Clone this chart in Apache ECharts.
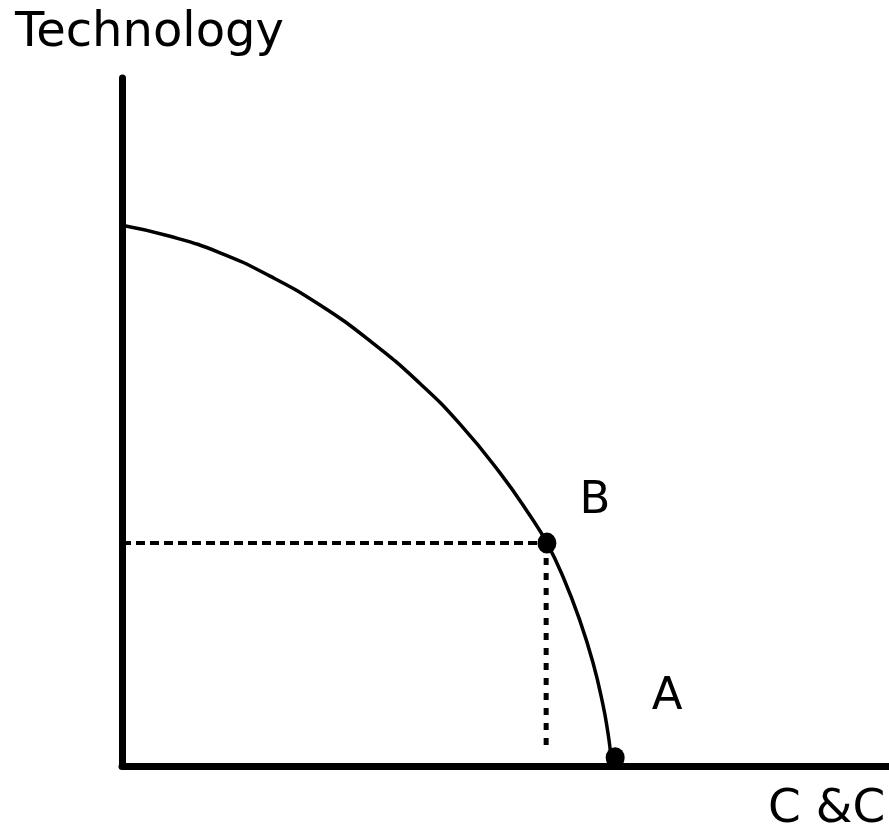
<!DOCTYPE html>
<html>
<head>
<meta charset="utf-8">
<script src="https://cdn.jsdelivr.net/npm/echarts@6/dist/echarts.min.js"></script>
<style>
  html, body { margin: 0; padding: 0; background: #fff; }
  #main { width: 889px; height: 836px; }
</style>
</head>
<body>
<div id="main"></div>
<script>
// frontier curve (x: C &C, y: Technology)
var curveX = [0, 6.26, 12.78, 19.30, 25.81, 32.33, 38.85, 44.07, 49.28, 53.19, 55.41, 57.50, 59.71, 61.41, 62.71, 63.36, 63.69, 63.89];
var curveY = [78.6, 77.0, 74.6, 71.2, 67.0, 61.8, 55.6, 49.7, 42.6, 36.4, 32.4, 27.5, 21.1, 15.0, 8.9, 4.8, 2.0, 0];

var pointNames = ['B', 'A'];
var pointX = [55.4, 64.3];
var pointY = [32.4, 1.2];

var guideH = [[0, 32.4], [55.4, 32.4]];
var guideV = [[55.3, 32.4], [55.3, 1.9]];

var chart = echarts.init(document.getElementById('main'));

var curve = curveX.map(function (x, i) { return [x, curveY[i]]; });

var option = {
  backgroundColor: '#fff',
  animation: false,
  grid: { left: 122, right: 0, top: 78, bottom: 70 },
  xAxis: {
    type: 'value', min: 0, max: 100,
    axisLine: { lineStyle: { color: '#000', width: 7 } },
    axisTick: { show: false }, axisLabel: { show: false }, splitLine: { show: false }
  },
  yAxis: {
    type: 'value', min: 0, max: 100,
    axisLine: { show: true, lineStyle: { color: '#000', width: 7 } },
    axisTick: { show: false }, axisLabel: { show: false }, splitLine: { show: false }
  },
  graphic: [
    { type: 'text', left: 15, top: 10,
      style: { text: 'Technology', font: '48px "DejaVu Sans"', fill: '#000' } },
    { type: 'text', left: 768, top: 786,
      style: { text: 'C &C', font: '47px "DejaVu Sans"', fill: '#000' } }
  ],
  series: [
    {
      type: 'line', data: guideH, symbol: 'none', silent: true,
      lineStyle: { color: '#000', width: 4, type: [9, 5] }
    },
    {
      type: 'line', data: guideV, symbol: 'none', silent: true,
      lineStyle: { color: '#000', width: 5, type: [7, 8] }
    },
    {
      type: 'line', data: curve, symbol: 'none', smooth: 0.5,
      lineStyle: { color: '#000', width: 3.5 }
    },
    {
      type: 'scatter',
      data: pointNames.map(function (n, i) {
        return {
          name: n, value: [pointX[i], pointY[i]],
          label: { offset: i === 0 ? [48, -42] : [52, -60] }
        };
      }),
      symbol: 'circle', symbolSize: [19, 21],
      itemStyle: { color: '#000', opacity: 1 },
      label: {
        show: true, position: 'inside', formatter: '{b}',
        color: '#000', fontSize: 45, fontFamily: 'DejaVu Sans'
      }
    }
  ]
};

chart.setOption(option);
</script>
</body>
</html>
